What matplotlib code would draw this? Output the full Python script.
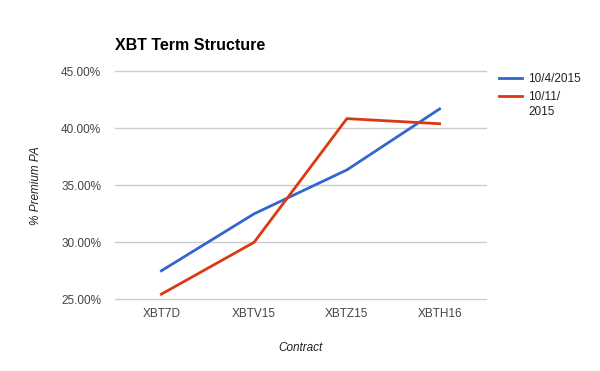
import matplotlib
matplotlib.use("Agg")
import matplotlib.pyplot as plt
from matplotlib.ticker import FuncFormatter

plt.rcParams['font.family'] = ['Liberation Sans', 'DejaVu Sans']

# dados
contracts = ['XBT7D', 'XBTV15', 'XBTZ15', 'XBTH16']
series_names = ['10/4/2015', '10/11/']
premium_oct4 = [27.5, 32.5, 36.35, 41.7]
premium_oct11 = [25.45, 30.0, 40.85, 40.4]
y_ticks = [25, 30, 35, 40, 45]

fig = plt.figure(figsize=(6, 3.71), dpi=100)
ax = fig.add_axes([115 / 600, 1 - 299.3 / 371, 371 / 600, 228 / 371])

x = list(range(len(contracts)))
ax.plot(x, premium_oct4, color='#3366cc', lw=2, label=series_names[0])
ax.plot(x, premium_oct11, color='#dc3912', lw=2, label=series_names[1])

ax.set_xlim(-0.5, len(contracts) - 0.5)
ax.set_ylim(25, 45)
ax.set_yticks(y_ticks)
ax.yaxis.set_major_formatter(FuncFormatter(lambda v, p: f'{v:.2f}%'))
ax.set_xticks(x)
ax.set_xticklabels(contracts)

ax.grid(axis='y', color='#cccccc', lw=1)
for gl in ax.get_ygridlines():
    gl.set_clip_on(False)
ax.set_axisbelow(True)
for s in ax.spines.values():
    s.set_visible(False)
ax.tick_params(length=0, labelsize=8.5, colors='#444444')
ax.tick_params(axis='y', pad=10)
ax.tick_params(axis='x', pad=6)

ax.set_xlabel('Contract', fontstyle='italic', fontsize=8.5, color='#222222', labelpad=16)
ax.set_ylabel('% Premium PA', fontstyle='italic', fontsize=8.5, color='#222222', labelpad=14)

fig.text(115 / 600, 1 - 45 / 371, 'XBT Term Structure', fontsize=11.5, fontweight='bold',
         va='center', ha='left', color='black')

ax.legend(loc='upper left', bbox_to_anchor=(1.007, 1.04), frameon=False, fontsize=8.5,
          handlelength=1.9, handletextpad=0.5, labelspacing=0.55, labelcolor='#222222')
# segunda linha do rótulo da legenda
fig.text(528 / 600, 1 - 112 / 371, '2015', fontsize=8.5, color='#222222', va='center', ha='left')

fig.savefig('out.png', dpi=100)
